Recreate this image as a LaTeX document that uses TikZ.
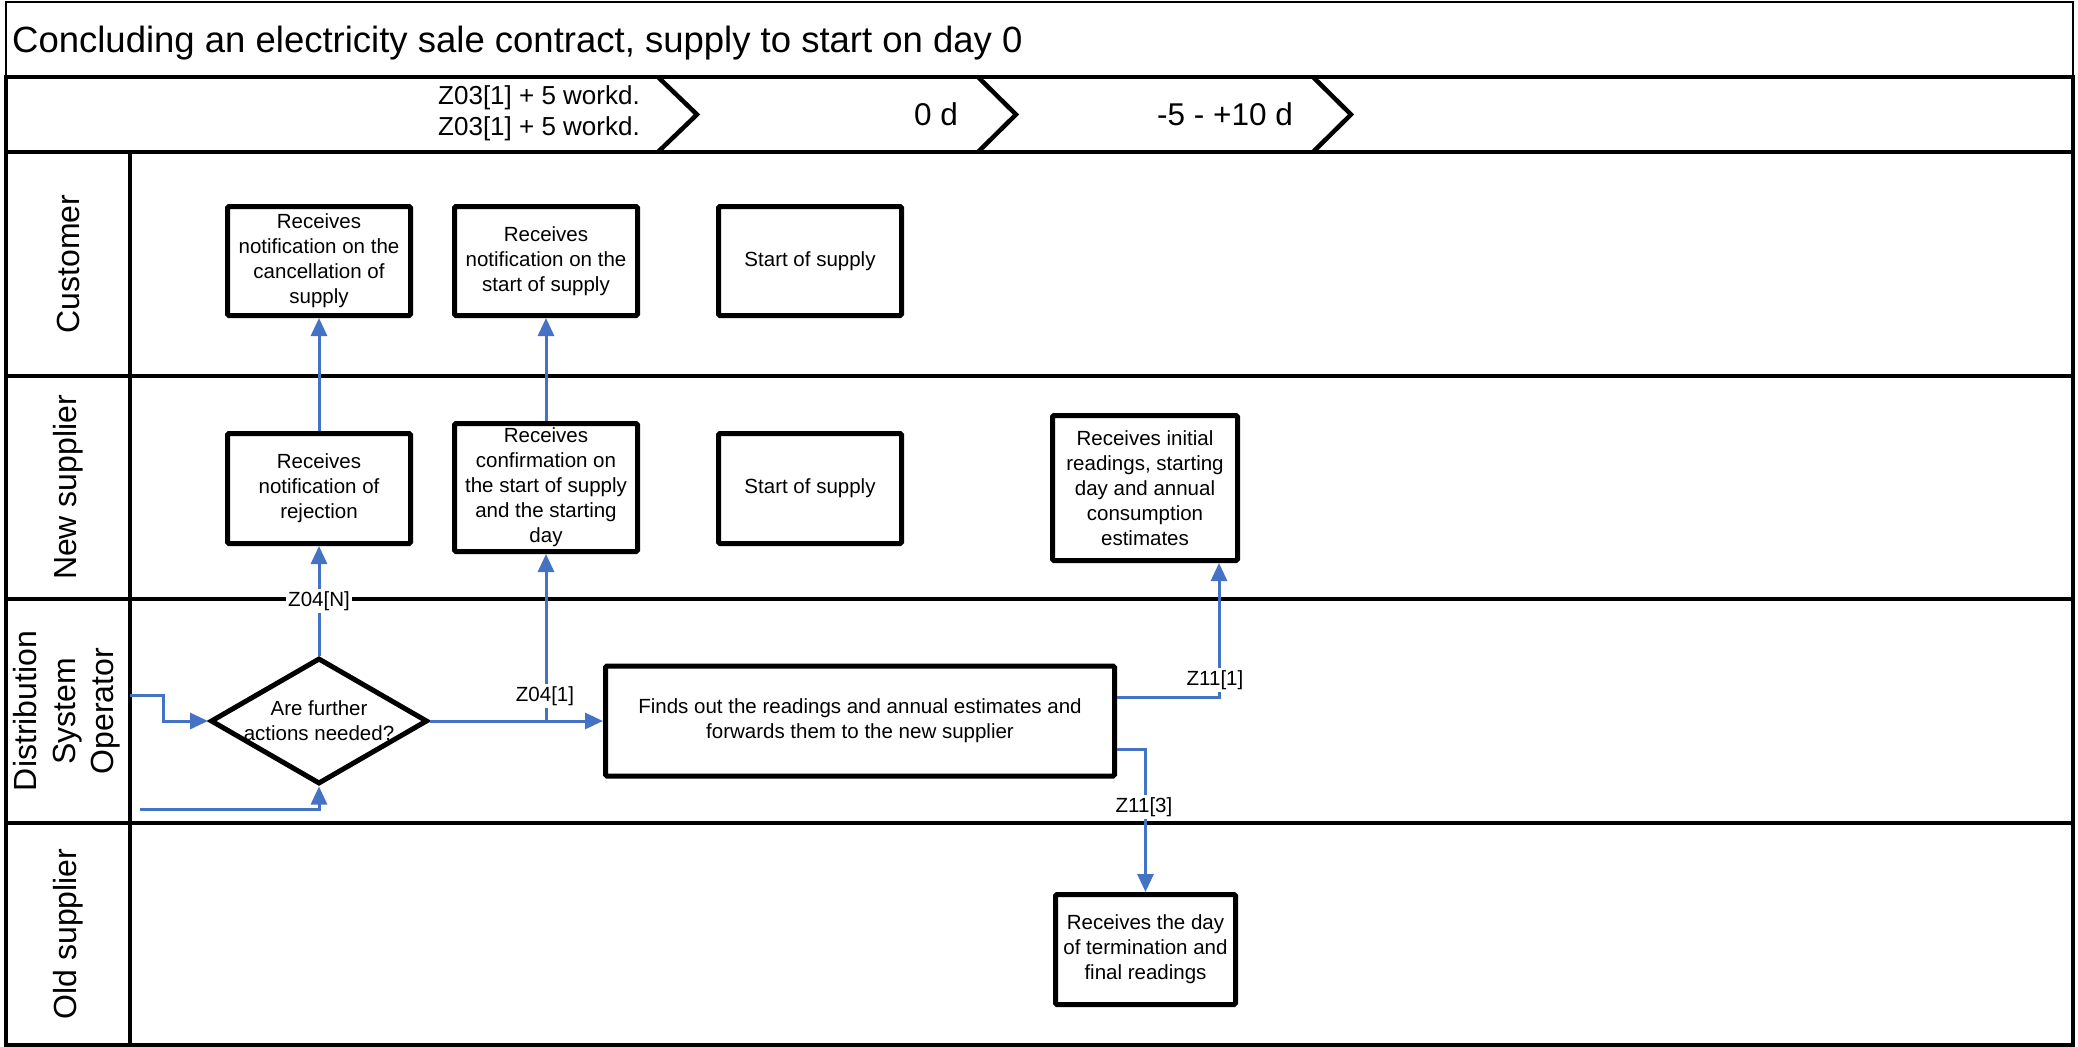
\documentclass[tikz,border=0pt]{standalone}
\usepackage{fontspec}
\setmainfont{Liberation Sans}
\usetikzlibrary{arrows.meta,shapes.geometric,calc}
\definecolor{flowblue}{HTML}{4472C4}
\tikzset{
  rule/.style={line width=4.5pt},
  act/.style={draw, line width=5pt, rounded corners=1.5pt, inner sep=0pt, align=center,
    font=\fontsize{20.5}{25}\selectfont},
  flow/.style={draw=flowblue, line width=3pt, -{Triangle[length=18pt,width=16pt]}},
  tag/.style={fill=white, inner sep=2pt, font=\fontsize{20.5}{24}\selectfont},
  lanename/.style={rotate=90, align=center, inner sep=0pt, font=\fontsize{32}{38.5}\selectfont},
  chev/.style={line width=4.5pt, line join=miter},
  phase/.style={inner sep=0pt, font=\fontsize{31.5}{36}\selectfont},
}
\begin{document}
\begin{tikzpicture}[x=1pt,y=-1pt]
\useasboundingbox (0,0) rectangle (2078,1047);
\fill[white] (0,0) rectangle (2078,1047);

% title row
\draw[line width=1.5pt] (6,2) rectangle (2073,77);
\node[anchor=base west, inner sep=0pt, font=\fontsize{36.5}{40}\selectfont] (title) at (12,52)
  {Concluding an electricity sale contract, supply to start on day 0};

% phase row with chevrons
\draw[rule] (6,77) rectangle (2073,152);
\draw[chev] (658,77) -- (697,114.5) -- (658,152);
\draw[chev] (978,77) -- (1016,114.5) -- (978,152);
\draw[chev] (1313,77) -- (1351,114.5) -- (1313,152);
\node[anchor=east, align=right, inner sep=0pt, font=\fontsize{26}{30.5}\selectfont] (ph1) at (640,113.5)
  {Z03[1] + 5 workd.\\Z03[1] + 5 workd.};
\node[phase] (ph2) at (936,114.5) {0 d};
\node[phase] (ph3) at (1225,114.5) {-5 - +10 d};

% swimlanes
\draw[rule] (6,152) rectangle (2073,1045);
\draw[rule] (6,376) -- (2073,376);
\draw[rule] (6,599) -- (2073,599);
\draw[rule] (6,823) -- (2073,823);
\draw[rule] (130,152) -- (130,1045);
\node[lanename] (lc) at (68,264) {Customer};
\node[lanename] (ln) at (68,487.5) {New supplier};
\node[lanename] (ld) at (67,711) {Distribution\\System\\Operator};
\node[lanename] (lo) at (68,934) {Old supplier};

% customer
\node[act, minimum width=183pt, minimum height=109pt] (c1) at (319,261)
  {Receives\\notification on the\\cancellation of\\supply};
\node[act, minimum width=183pt, minimum height=109pt] (c2) at (546,261)
  {Receives\\notification on the\\start of supply};
\node[act, minimum width=183pt, minimum height=109pt] (c3) at (810,261) {Start of supply};

% new supplier
\node[act, minimum width=183pt, minimum height=110pt] (n1) at (319,488.5)
  {Receives\\notification of\\rejection};
\node[act, minimum width=183pt, minimum height=128pt] (n2) at (546,487.5)
  {Receives\\confirmation on\\the start of supply\\and the starting\\day};
\node[act, minimum width=183pt, minimum height=110pt] (n3) at (810,488.5) {Start of supply};
\node[act, minimum width=185pt, minimum height=145pt] (n4) at (1145,488)
  {Receives initial\\readings, starting\\day and annual\\consumption\\estimates};

% distribution system operator
\node[diamond, draw, line width=5pt, minimum width=217pt, minimum height=126pt, inner sep=0pt] (d) at (319,721) {};
\node[align=center, inner sep=0pt, font=\fontsize{20.5}{25}\selectfont] (dq) at (d.center)
  {Are further\\actions needed?};
\node[act, minimum width=509pt, minimum height=110pt] (p) at (860,721)
  {Finds out the readings and annual estimates and\\forwards them to the new supplier};

% old supplier
\node[act, minimum width=180pt, minimum height=110pt] (o1) at (1145.5,949.5)
  {Receives the day\\of termination and\\final readings};

% connectors
\coordinate (in1) at (130,695);
\coordinate (in2) at (140,809);
\coordinate (j1) at (n2.south |- d.east);
\coordinate (p1) at ($(p.east)+(0,-24)$);
\coordinate (p3) at ($(p.east)+(0,28)$);
\coordinate (n4in) at ($(n4.south east)+(-21,0)$);
\draw[flow] (in1) -- ++(33,0) |- (d.west);
\draw[flow] (in2) -| (d.south);
\draw[flow] (d.north) -- (n1.south);
\draw[flow] (n1.north) -- (c1.south);
\draw[flow] (d.east) -- (p.west);
\draw[flow] (j1) -- (n2.south);
\draw[flow] (n2.north) -- (c2.south);
\draw[flow] (p1) -| (n4in);
\draw[flow] (p3) -| (o1.north);

% connector labels
\node[tag] (tn) at (319,601) {Z04[N]};
\node[tag] (t1) at (545,696) {Z04[1]};
\node[tag] (t11) at (1215,680) {Z11[1]};
\node[tag] (t13) at (1144,807) {Z11[3]};
\end{tikzpicture}
\end{document}
